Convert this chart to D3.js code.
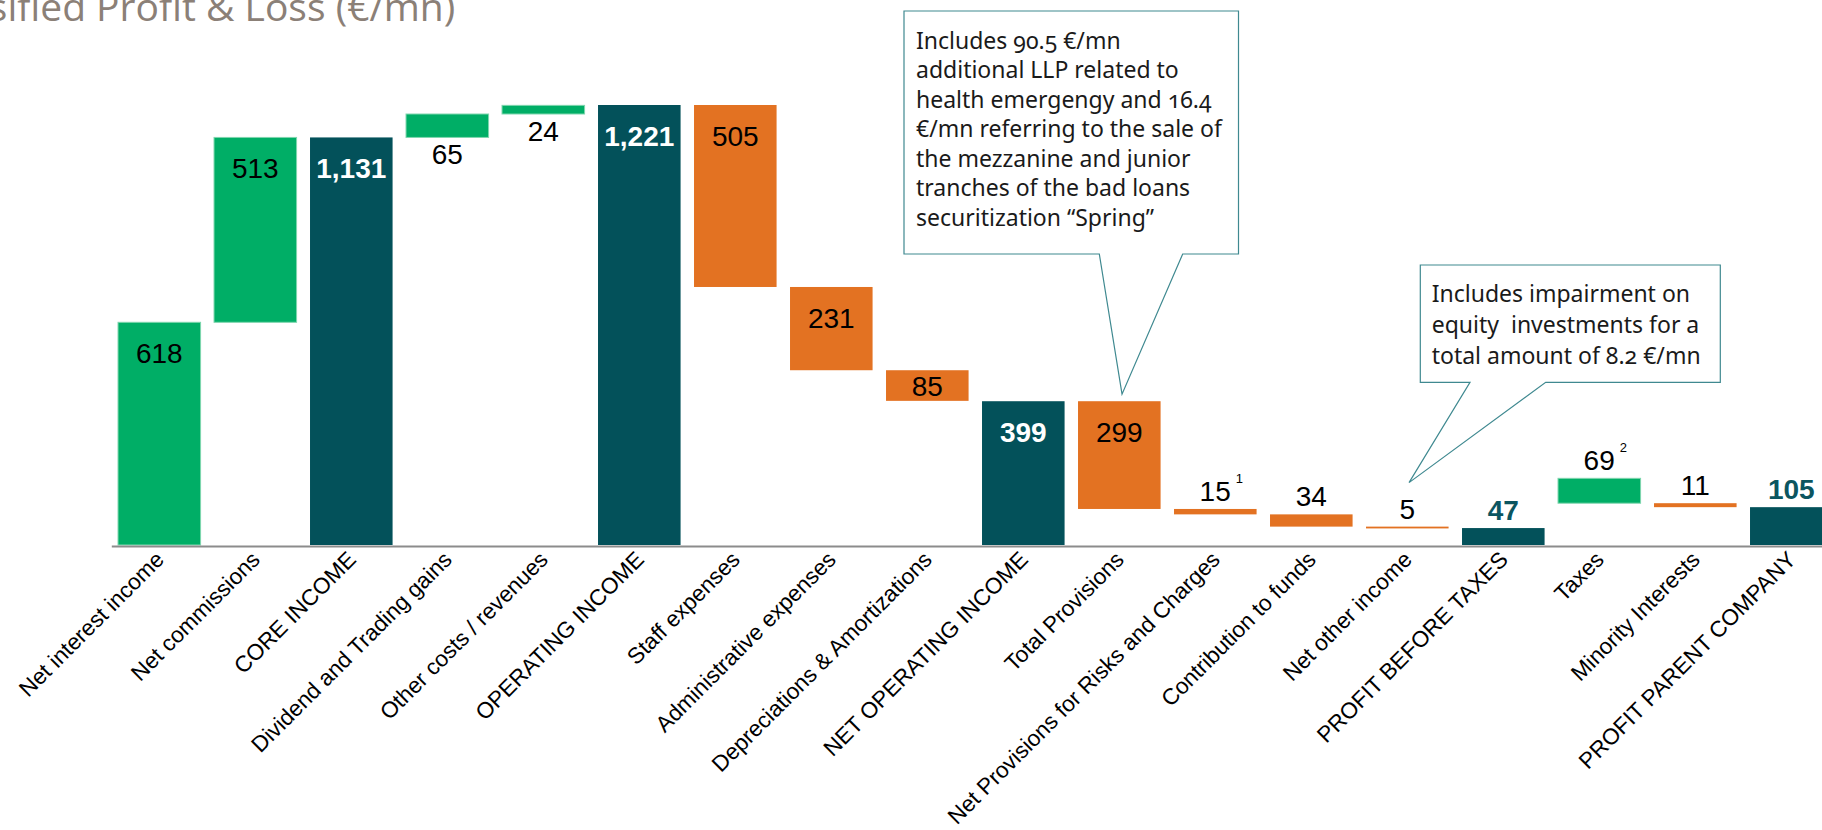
<!DOCTYPE html>
<html>
<head>
<meta charset="utf-8">
<script src="https://cdn.jsdelivr.net/npm/d3@7"></script>
<style>
  html, body { margin: 0; padding: 0; background: #fff; overflow: hidden; }
  svg { display: block; }
</style>
</head>
<body>
<svg id="chart" width="1822" height="830"></svg>
<script>
// ---- data ---------------------------------------------------------------
const categories = [
  "Net interest income", "Net commissions", "CORE INCOME",
  "Dividend and Trading gains", "Other costs / revenues", "OPERATING INCOME",
  "Staff expenses", "Administrative expenses", "Depreciations & Amortizations",
  "NET OPERATING INCOME", "Total Provisions", "Net Provisions for Risks and Charges",
  "Contribution to funds", "Net other income", "PROFIT BEFORE TAXES",
  "Taxes", "Minority Interests", "PROFIT PARENT COMPANY"
];
const values = [618, 513, 1131, 65, 24, 1221, 505, 231, 85, 399, 299, 15, 34, 5, 47, 69, 11, 105];
// "up" = positive contribution, "down" = negative contribution, "total" = subtotal
const kinds = ["up", "up", "total", "up", "up", "total", "down", "down", "down",
               "total", "down", "down", "down", "down", "total", "up", "down", "total"];
// lower edge (in €/mn) of each floating bar
const lows = [0, 618, 0, 1131, 1196, 0, 716, 485, 400, 0, 100, 85, 51, 46, 0, 116, 105, 0];
const footnotes = ["", "", "", "", "", "", "", "", "", "", "", "1", "", "", "", "2", "", ""];

const titleText = "Reclassified Profit & Loss (€/mn)";
const noteProvisions = [
  "Includes 90.5 €/mn",
  "additional LLP related to",
  "health emergengy and 16.4",
  "€/mn referring to the sale of",
  "the mezzanine and junior",
  "tranches of the bad loans",
  "securitization “Spring”"
];
const noteOtherIncome = [
  "Includes impairment on",
  "equity\u00A0 investments for a",
  "total amount of 8.2 €/mn"
];

// ---- setup --------------------------------------------------------------
const svg = d3.select("#chart");
const W = 1822, H = 830;
svg.append("rect").attr("width", W).attr("height", H).attr("fill", "#fff");

const colors = { up: "#00AE66", down: "#E37222", total: "#03515A" };
const baseY = 545;

const x = d3.scaleBand()
  .domain(categories)
  .range([111.3, 1839.3])
  .paddingInner(0.14)
  .paddingOuter(0.07);

const y = d3.scaleLinear().domain([0, 1221]).range([baseY, 105]);

const rows = categories.map((c, i) => ({
  cat: c, value: values[i], kind: kinds[i], low: lows[i],
  high: lows[i] + values[i], note: footnotes[i]
}));

// ---- title --------------------------------------------------------------
const titleFont = "'Open Sans', 'Noto Sans', sans-serif";
const titleSize = 39;
const probe = svg.append("text")
  .attr("font-family", titleFont).attr("font-size", titleSize)
  .text("Reclassified ");
const prefixW = probe.node().getComputedTextLength();
probe.remove();
svg.append("text")
  .attr("x", 86 - prefixW)
  .attr("y", 21)
  .attr("font-family", titleFont)
  .attr("font-size", titleSize)
  .attr("fill", "#8B8077")
  .text(titleText);

// ---- bars ---------------------------------------------------------------
const bars = svg.append("g");
bars.selectAll("rect")
  .data(rows)
  .join("rect")
  .attr("x", d => x(d.cat))
  .attr("width", x.bandwidth())
  .attr("y", d => y(d.high))
  .attr("height", d => y(d.low) - y(d.high))
  .attr("fill", d => colors[d.kind])
  .attr("stroke", d => d.kind === "up" ? "#7FD6AE" : "none")
  .attr("stroke-width", 1);

// ---- axis ---------------------------------------------------------------
const axis = svg.append("g")
  .attr("transform", `translate(0,${baseY + 1})`)
  .call(d3.axisBottom(x).tickSize(0).tickSizeOuter(0));
axis.select(".domain").attr("stroke", "#8C8C8C").attr("stroke-width", 2);
axis.selectAll(".tick text")
  .attr("x", 0).attr("y", 0).attr("dy", 0)
  .attr("transform", "translate(6,15) rotate(-45)")
  .attr("text-anchor", "end")
  .attr("font-family", "'Liberation Sans', Arial, sans-serif")
  .attr("font-size", 22.5)
  .attr("fill", "#000");

// ---- value labels -------------------------------------------------------
function placement(d) {
  const h = y(d.low) - y(d.high);
  if (h > 60) return "inside";
  if (d.kind !== "total" && h > 28) return "middle";
  if (d.high > 1000) return "below";
  return "above";
}
function labelY(d) {
  switch (placement(d)) {
    case "inside": return y(d.high) + 41;
    case "middle": return (y(d.high) + y(d.low)) / 2 + 10;
    case "below":  return y(d.low) + 27;
    default:       return y(d.high) - 8;
  }
}
const fmt = d3.format(",");
const labels = svg.append("g")
  .attr("font-family", "'Liberation Sans', Arial, sans-serif")
  .attr("font-size", 28)
  .attr("text-anchor", "middle");
const lab = labels.selectAll("text")
  .data(rows)
  .join("text")
  .attr("x", d => x(d.cat) + x.bandwidth() / 2 + (d.note ? 6 : 0))
  .attr("y", labelY)
  .attr("font-weight", d => d.kind === "total" ? "bold" : "normal")
  .attr("fill", d => d.kind === "total"
    ? (placement(d) === "inside" ? "#fff" : "#0B5560")
    : "#000");
lab.append("tspan").text(d => fmt(d.value));
lab.filter(d => d.note)
  .append("tspan")
  .attr("dx", 5)
  .attr("dy", -18)
  .attr("font-size", 13)
  .text(d => d.note);

// ---- callouts -----------------------------------------------------------
function callout(box, tailL, tailR, tip, lines, textX, firstBase, lineGap) {
  const [x0, y0, x1, y1] = box;
  const p = d3.path();
  p.moveTo(x0, y0);
  p.lineTo(x1, y0);
  p.lineTo(x1, y1);
  p.lineTo(tailR, y1);
  p.lineTo(tip[0], tip[1]);
  p.lineTo(tailL, y1);
  p.lineTo(x0, y1);
  p.closePath();
  const g = svg.append("g");
  g.append("path")
    .attr("d", p.toString())
    .attr("fill", "#fff")
    .attr("stroke", "#3F8990")
    .attr("stroke-width", 1.2);
  g.append("g")
    .attr("font-family", "'Noto Sans', 'Open Sans', sans-serif")
    .attr("font-size", 23)
    .attr("fill", "#1A1A1A")
    .style("font-variant-numeric", "oldstyle-nums")
    .selectAll("text")
    .data(lines)
    .join("text")
    .attr("x", textX)
    .attr("y", (d, i) => firstBase + i * lineGap)
    .text(d => d);
}

const tp = rows[10];
callout([904, 11, 1238.5, 254], 1099.3, 1182.7,
  [x(tp.cat) + 44, y(tp.high) - 7],
  noteProvisions, 916, 48.5, 29.5);

const oi = rows[13];
callout([1420.3, 265, 1720.3, 382.3], 1470, 1545.7,
  [x(oi.cat) + 43, y(oi.high) - 44],
  noteOtherIncome, 1431.7, 301.5, 31);
</script>
</body>
</html>
